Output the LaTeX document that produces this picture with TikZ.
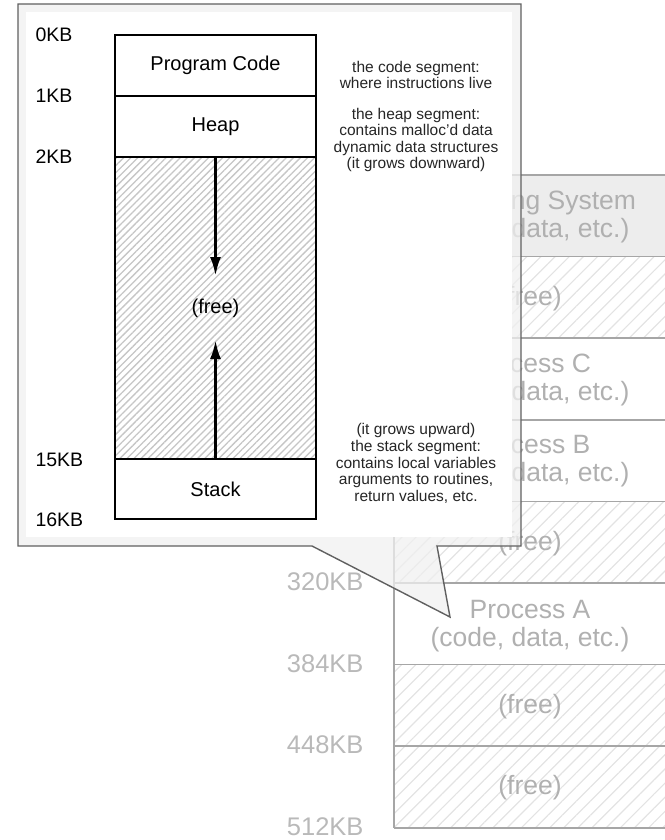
\documentclass[tikz,border=0pt]{standalone}
\usepackage{fontspec}
\setmainfont{Liberation Sans}
\usetikzlibrary{arrows.meta,patterns.meta}

\begin{document}
\begin{tikzpicture}[x=1pt, y=-1pt,
    segbox/.style={draw, line width=1.6pt, minimum width=201pt, inner sep=0pt,
      font=\fontsize{20}{24}\selectfont},
    kb/.style={anchor=west, font=\fontsize{19.5}{22}\selectfont},
    note/.style={align=center, text=black!85, font=\fontsize{15.5}{16.6}\selectfont},
    growarrow/.style={line width=3pt, -{Latex[length=19pt,width=11pt]}},
    bgline/.style={draw=gray!70, line width=1.6pt},
    bghatch/.style={pattern={Lines[angle=45,distance=10pt,line width=1.2pt]}, pattern color=gray!22},
    bgtext/.style={align=center, text=gray!62, font=\fontsize{26.5}{28}\selectfont},
    bgkb/.style={anchor=east, text=gray!55, font=\fontsize{25.5}{28}\selectfont}]

  \useasboundingbox (0,0) rectangle (664,840);

  % Physical memory in the back
  \fill[gray!14] (394,175) rectangle (670,256.6);
  \foreach \k in {1,4,6,7}
    \fill[bghatch] (394,175+81.6*\k) rectangle (670,256.6+81.6*\k);
  \foreach \k in {0,...,8}
    \draw[bgline] (394,175+81.6*\k) -- (670,175+81.6*\k);
  \draw[bgline] (394,175) -- (394,827.8);

  \node[bgtext] (os)    at (530,216.8) {Operating System\\(code, data, etc.)};
  \node[bgtext] (freeA) at (530,298.4) {(free)};
  \node[bgtext] (procC) at (530,380.0) {Process C\\(code, data, etc.)};
  \node[bgtext] (procB) at (530,461.6) {Process B\\(code, data, etc.)};
  \node[bgtext] (freeB) at (530,543.2) {(free)};
  \node[bgtext] (procA) at (530,625.8) {Process A\\(code, data, etc.)};
  \node[bgtext] (freeC) at (530,706.4) {(free)};
  \node[bgtext] (freeD) at (530,788.0) {(free)};

  \foreach \t/\k in {320KB/5, 384KB/6, 448KB/7, 512KB/8}
    \node[bgkb] (pm\k) at (367,174+81.6*\k) {\t};

  % Callout pointing at Process A
  \path[draw=gray!75!black, line width=1.4pt, fill=gray!12, fill opacity=0.75]
    (18,4) -- (521,4) -- (521,546) -- (437,546) -- (450,617) -- (312,546)
    -- (18,546) -- cycle;
  \fill[white] (26,12) rectangle (512,537);

  % Address space
  \node[segbox, minimum height=61pt] (code) at (215.5,65.5) {Program Code};
  \node[segbox, minimum height=61pt] (heap) at (215.5,126.5) {Heap};
  \node[segbox, minimum height=302pt, pattern={Lines[angle=45,distance=5pt,line width=1.3pt]},
    pattern color=gray!45] (free) at (215.5,308) {};
  \node[font=\fontsize{20}{24}\selectfont] (freelbl) at (215.5,308) {(free)};
  \node[segbox, minimum height=60pt] (stack) at (215.5,489) {Stack};

  % Growth directions
  \coordinate (heapend) at (215.5,276);
  \coordinate (stackend) at (215.5,340);
  \draw[growarrow] (free.north) -- (heapend);
  \draw[growarrow] (stack.north) -- (stackend);

  % Offsets
  \node[kb] (kb0)  at (32,35)  {0KB};
  \node[kb] (kb1)  at (32,96)  {1KB};
  \node[kb] (kb2)  at (32,157) {2KB};
  \node[kb] (kb15) at (32,460) {15KB};
  \node[kb] (kb16) at (32,520) {16KB};

  % Notes
  \node[note] (codenote)  at (416,75)  {the code segment:\\where instructions live};
  \node[note] (heapnote)  at (416,140) {the heap segment:\\contains malloc'd data\\dynamic data structures\\(it grows downward)};
  \node[note] (stacknote) at (416,463.5) {(it grows upward)\\the stack segment:\\contains local variables\\arguments to routines,\\return values, etc.};

\end{tikzpicture}
\end{document}
